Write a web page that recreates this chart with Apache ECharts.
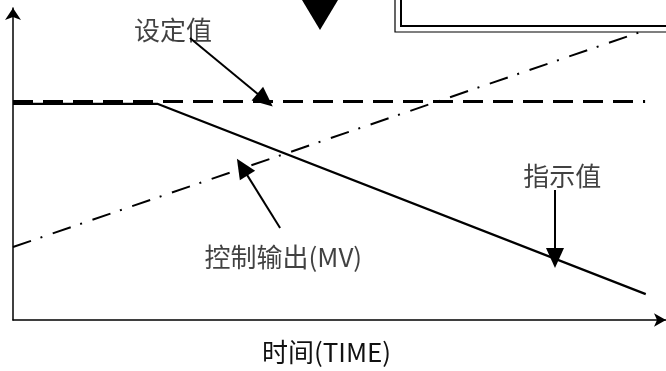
<!DOCTYPE html>
<html>
<head>
<meta charset="utf-8">
<script src="https://cdn.jsdelivr.net/npm/echarts@6/dist/echarts.min.js"></script>
<style>
  html, body { margin: 0; padding: 0; background: #fff; }
  #chart { width: 666px; height: 371px; }
</style>
</head>
<body>
<div id="chart"></div>
<script>
// 坐标范围 (示意图, 无刻度)
const xRange = [0, 100];
const yRange = [0, 100];

// 设定值 (SV) - 虚线
const svX = [0, 96.8];
const svY = [70, 70];
// 指示值 (PV) - 实线
const pvX = [0, 22.1, 96.9];
const pvY = [69.3, 69.3, 8.3];
// 控制输出 (MV) - 点划线
const mvX = [0, 96.9];
const mvY = [23.4, 92.9];

// 标注文字与箭头
const noteText = ["设定值", "控制输出(MV)", "指示值"];
const noteAt = [[24.5, 92.8], [41.4, 20.2], [84.1, 46.2]];
const arrowFrom = [[27.1, 90.4], [40.9, 29.5], [83.0, 41.7]];
const arrowTo = [[38.6, 70.5], [35.1, 49.0], [83.0, 19.9]];

const xName = "时间(TIME)";

const font = "'Noto Sans CJK SC', 'Noto Sans', sans-serif";
const zip = (xs, ys) => xs.map((x, i) => [x, ys[i]]);

const chart = echarts.init(document.getElementById("chart"));

const option = {
  backgroundColor: "#fff",
  animation: false,
  grid: { left: 13, right: 0, top: 8, bottom: 51, outerBoundsMode: "none" },
  xAxis: {
    type: "value",
    min: xRange[0],
    max: xRange[1],
    name: xName,
    nameLocation: "middle",
    nameGap: 19,
    nameTextStyle: { fontFamily: font, fontSize: 26, color: "#111", padding: [0, 26, 0, 0] },
    splitLine: { show: false },
    axisTick: { show: false },
    axisLabel: { show: false },
    axisLine: {
      show: true,
      onZero: false,
      symbol: ["none", "arrow"],
      symbolSize: [10, 12],
      lineStyle: { color: "#000", width: 1.5 },
    },
  },
  yAxis: {
    type: "value",
    min: yRange[0],
    max: yRange[1],
    splitLine: { show: false },
    axisTick: { show: false },
    axisLabel: { show: false },
    axisLine: {
      show: true,
      onZero: false,
      symbol: ["none", "arrow"],
      symbolSize: [12, 12],
      lineStyle: { color: "#000", width: 1.5 },
    },
  },
  graphic: [
    {
      type: "polygon",
      shape: { points: [[302, 0], [338, 0], [320, 30]] },
      style: { fill: "#000" },
    },
    {
      type: "rect",
      shape: { x: 395, y: -5, width: 280, height: 37 },
      style: { fill: "none", stroke: "#000", lineWidth: 1.2 },
    },
    {
      type: "rect",
      shape: { x: 401, y: -5, width: 280, height: 31 },
      style: { fill: "none", stroke: "#000", lineWidth: 2 },
    },
  ],
  series: [
    {
      name: "设定值",
      type: "line",
      data: zip(svX, svY),
      symbol: "none",
      silent: true,
      lineStyle: { color: "#000", width: 3, type: [20, 10] },
    },
    {
      name: "指示值",
      type: "line",
      data: zip(pvX, pvY),
      symbol: "none",
      silent: true,
      lineStyle: { color: "#000", width: 2.2 },
    },
    {
      name: "控制输出",
      type: "line",
      data: zip(mvX, mvY),
      symbol: "none",
      silent: true,
      lineStyle: { color: "#000", width: 2, type: [19, 10, 2, 11] },
    },
    {
      name: "标注",
      type: "scatter",
      symbolSize: 0,
      silent: true,
      data: noteText.map((t, i) => ({ name: t, value: noteAt[i] })),
      label: {
        show: true,
        position: "inside",
        formatter: (p) => p.name,
        fontFamily: font,
        fontSize: 26,
        color: "#111",
      },
      markLine: {
        silent: true,
        symbol: ["none", "triangle"],
        symbolSize: [18, 20],
        label: { show: false },
        lineStyle: { color: "#000", width: 2, type: "solid" },
        data: arrowFrom.map((f, i) => [{ coord: f }, { coord: arrowTo[i] }]),
      },
    },
  ],
};

chart.setOption(option);
</script>
</body>
</html>
